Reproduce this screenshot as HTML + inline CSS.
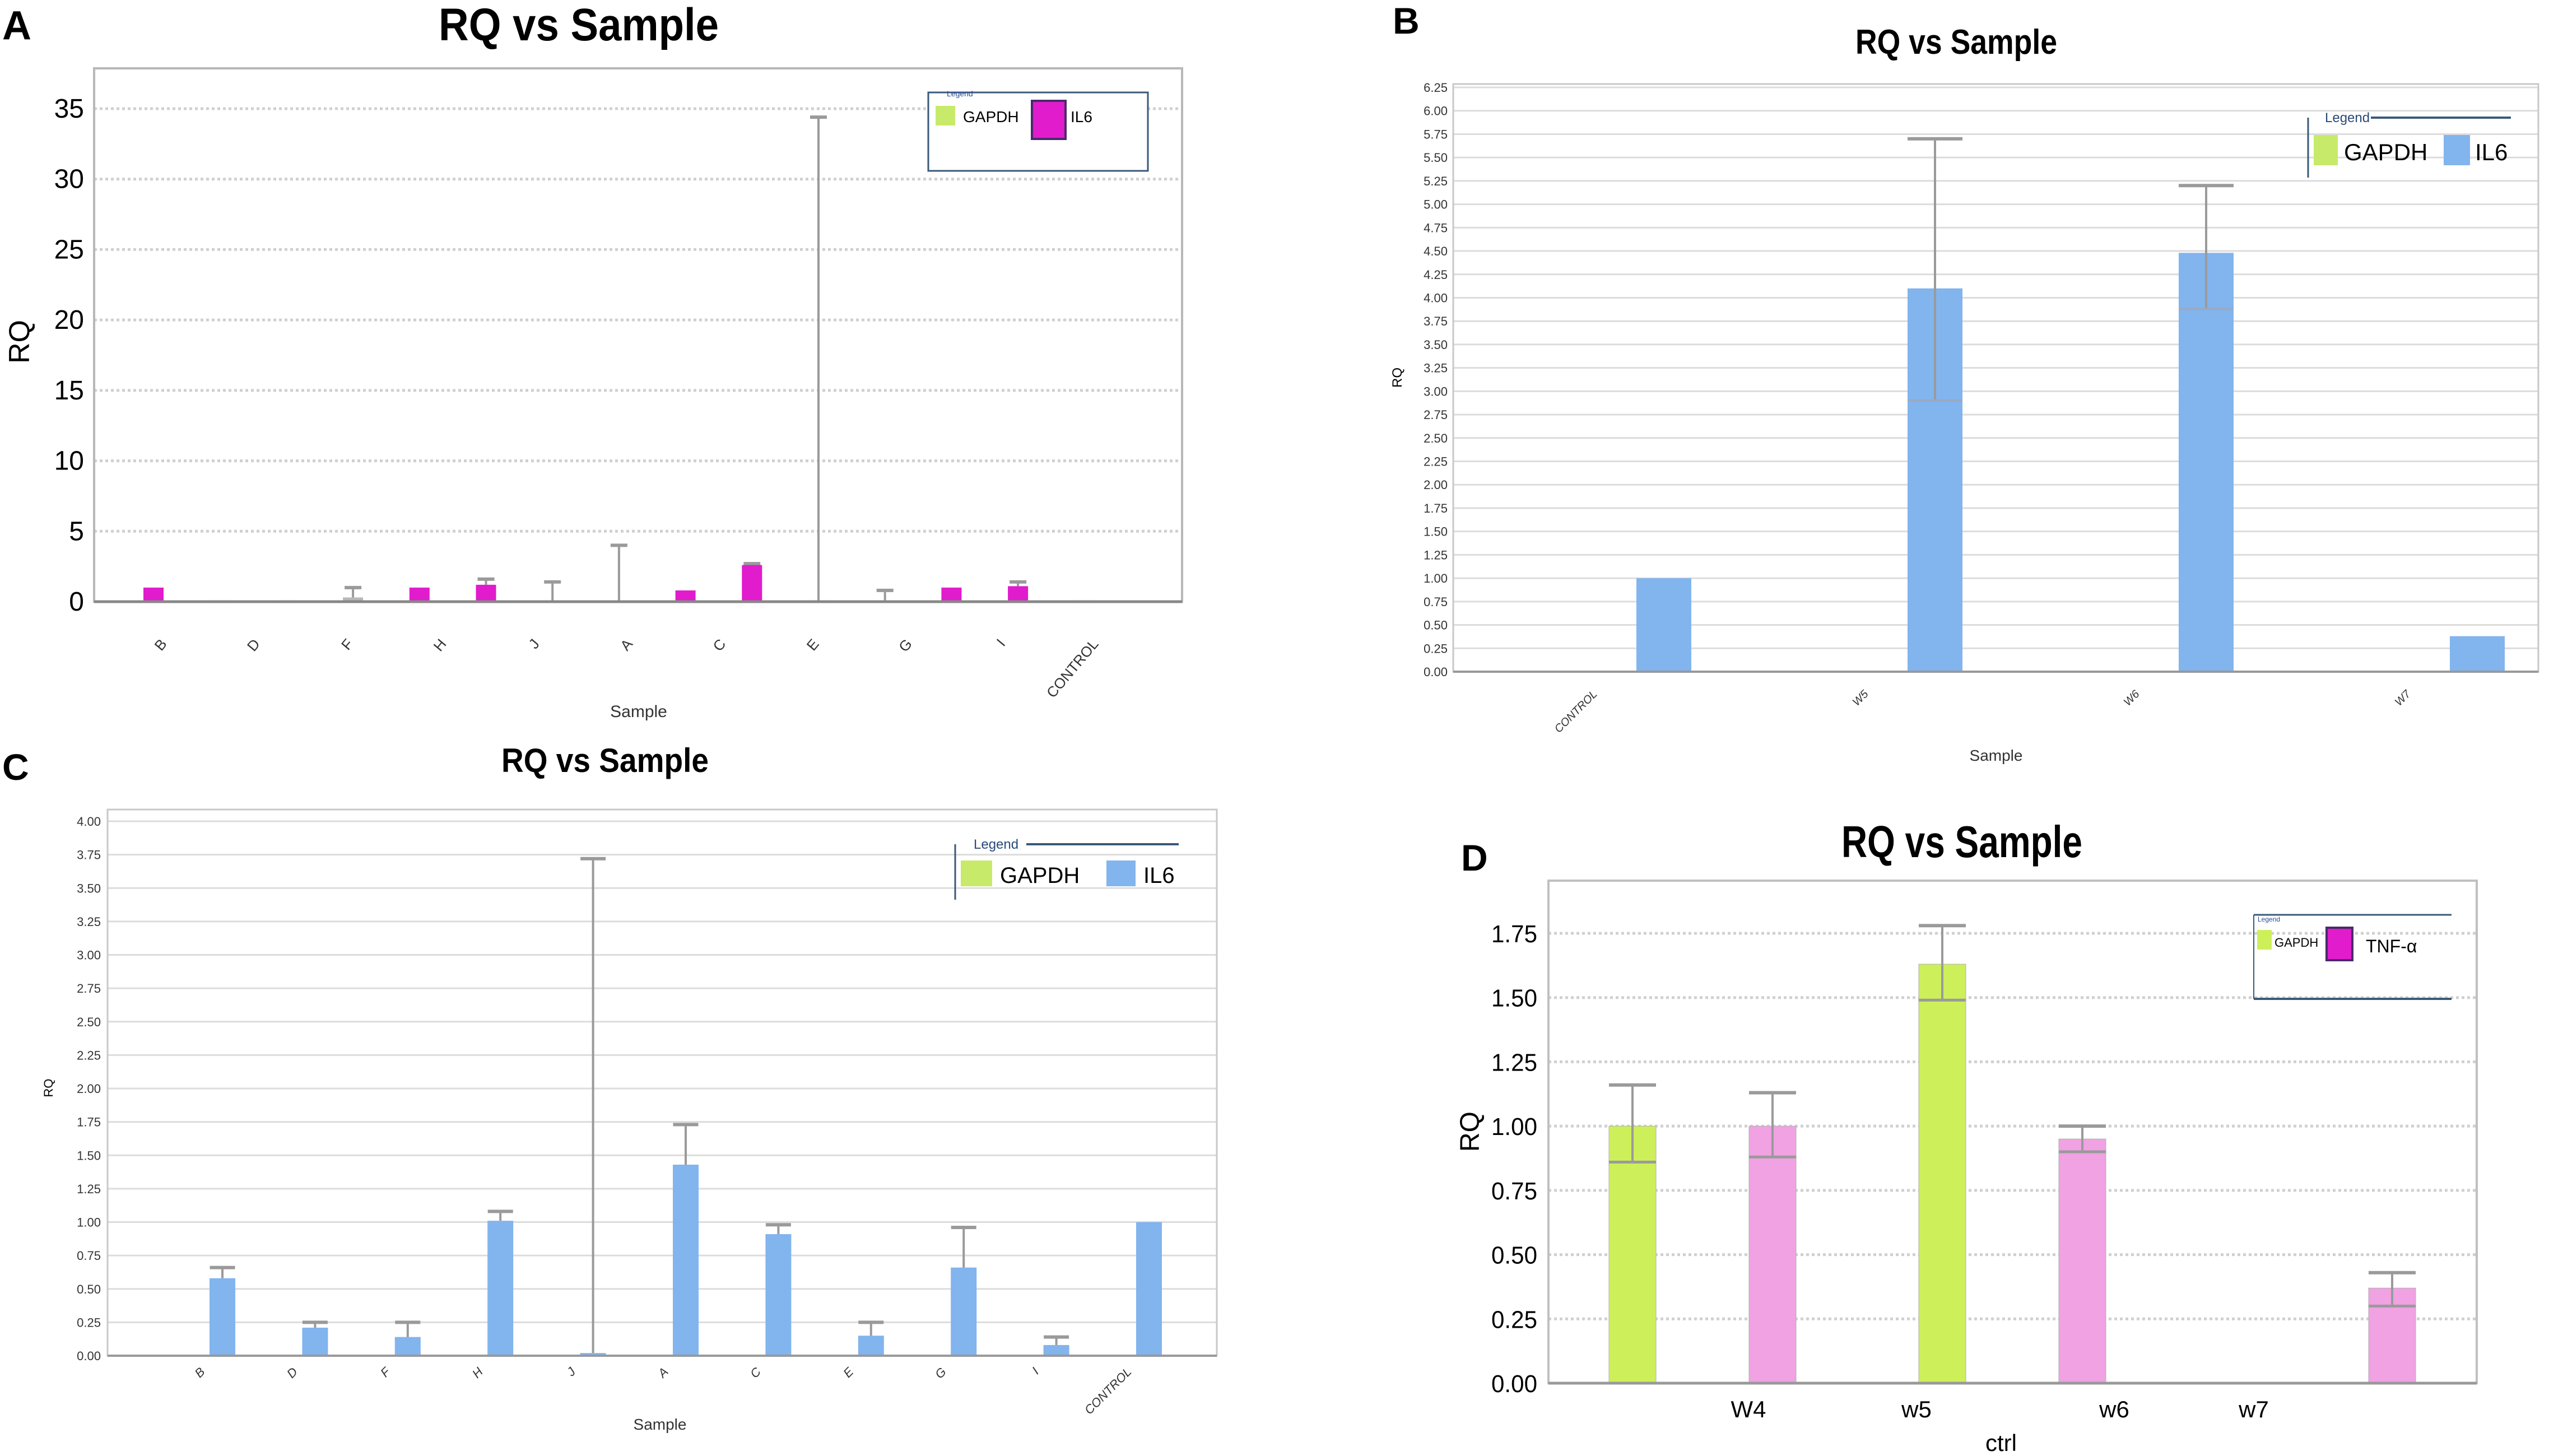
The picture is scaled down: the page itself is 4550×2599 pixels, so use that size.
<!DOCTYPE html>
<html><head><meta charset="utf-8">
<style>
html,body{margin:0;padding:0;background:#fff;}
svg{display:block;font-family:"Liberation Sans",sans-serif;}
</style></head>
<body>
<svg id="chart" width="4550" height="2599" viewBox="0 0 4550 2599" xmlns="http://www.w3.org/2000/svg">
<rect x="0" y="0" width="4550" height="2599" fill="#fff"/>
<!-- Panel letters & titles -->
<text x="4" y="70" font-size="72" font-weight="bold">A</text>
<text x="1033" y="72" font-size="82" font-weight="bold" text-anchor="middle" textLength="500" lengthAdjust="spacingAndGlyphs">RQ vs Sample</text>
<text x="2486" y="60" font-size="66" font-weight="bold">B</text>
<text x="3492" y="96" font-size="62" font-weight="bold" text-anchor="middle" textLength="360" lengthAdjust="spacingAndGlyphs">RQ vs Sample</text>
<text x="4" y="1392" font-size="66" font-weight="bold">C</text>
<text x="1080" y="1378" font-size="60" font-weight="bold" text-anchor="middle" textLength="370" lengthAdjust="spacingAndGlyphs">RQ vs Sample</text>
<text x="2608" y="1554" font-size="66" font-weight="bold">D</text>
<text x="3502" y="1530" font-size="80" font-weight="bold" text-anchor="middle" textLength="430" lengthAdjust="spacingAndGlyphs">RQ vs Sample</text>
<g id="layer"></g>
</svg>
<script>
// ---------- Panel A data ----------
const aSlotValues = [1.0, 0.1, 0.1, 0.3, 1.0, 1.2, 0.1, 0.0, 0.8, 2.6, 0.1, 0.0, 1.0, 1.1, 0.1];
const aSlotErr    = [1.05, 0.15, 0.15, 1.0, 1.05, 1.6, 1.4, 4.0, 0.85, 2.7, 34.4, 0.8, 1.0, 1.4, 0.15];
const aSlotPink   = [1, 0, 0, 0, 1, 1, 0, 0, 1, 1, 0, 0, 1, 1, 0];
const aCategories = ["B","D","F","H","J","A","C","E","G","I","CONTROL"];
const aTicks = [0,5,10,15,20,25,30,35];
// ---------- Panel B data ----------
const bCategories = ["CONTROL","W5","W6","W7"];
const bIL6 = [1.0, 4.1, 4.48, 0.38];
const bErrHi = [null, 5.7, 5.2, null];
const bErrLo = [null, 2.9, 3.88, null];
const bTicks = [0,0.25,0.5,0.75,1,1.25,1.5,1.75,2,2.25,2.5,2.75,3,3.25,3.5,3.75,4,4.25,4.5,4.75,5,5.25,5.5,5.75,6,6.25];
// ---------- Panel C data ----------
const cCategories = ["B","D","F","H","J","A","C","E","G","I","CONTROL"];
const cIL6 = [0.58, 0.21, 0.14, 1.01, 0.02, 1.43, 0.91, 0.15, 0.66, 0.08, 1.0];
const cErrHi = [0.66, 0.25, 0.25, 1.08, 3.72, 1.73, 0.98, 0.25, 0.96, 0.14, null];
const cTicks = [0,0.25,0.5,0.75,1,1.25,1.5,1.75,2,2.25,2.5,2.75,3,3.25,3.5,3.75,4];
// ---------- Panel D data ----------
const dGAPDH = [1.0, 1.63, 0];
const dGAPDHErrHi = [1.16, 1.78, null];
const dGAPDHErrLo = [0.86, 1.49, null];
const dTNF = [1.0, 0.95, 0.37];
const dTNFErrHi = [1.13, 1.0, 0.43];
const dTNFErrLo = [0.88, 0.9, 0.3];
const dLabels = ["W4","w5","w6","w7","ctrl"];
const dTicks = [0,0.25,0.5,0.75,1,1.25,1.5,1.75];

const NS = "http://www.w3.org/2000/svg";
const layer = document.getElementById('layer');
function mk(tag, attrs) {
  const e = document.createElementNS(NS, tag);
  for (const k in attrs) e.setAttribute(k, attrs[k]);
  layer.appendChild(e);
  return e;
}
function txt(s, attrs) { const e = mk('text', attrs); e.textContent = s; return e; }

// scales
const yA = v => 1074 - v * (880 / 35);
const xA = i => 274 + i * 118.7;
const yB = v => 1199 - v * (1043 / 6.25);
const xB = (g, s) => 2836 + g * 484 + (s ? 134 : -134);
const yC = v => 2420 - v * (954 / 4);
const xC = i => 397 + i * 165.4;
const yD = v => 2469 - v * (803 / 1.75);
const xD = (g, s) => 2914 + g * 553 + s * 250;

function errBar(x, yTop, yBot, capW, name) {
  let e = mk('line', {x1:x, x2:x, y1:yTop, y2:yBot, stroke:'#9a9a9a', 'stroke-width':4});
  
  
  e = mk('line', {x1:x-capW/2, x2:x+capW/2, y1:yTop, y2:yTop, stroke:'#9a9a9a', 'stroke-width':6});
  
  
}

// ================= PANEL A =================
aTicks.forEach(t => {
  let g = mk('line', {x1:168, x2:2110, y1:yA(t), y2:yA(t), stroke:'#d0d0d0', 'stroke-width':5, 'stroke-dasharray':'5 5'});
  
  
  let l = txt(String(t), {x:150, y:yA(t)+16, 'font-size':48, 'text-anchor':'end'});
  
  
});
let fa = mk('rect', {x:168, y:122, width:1942, height:952, fill:'none', stroke:'#b8b8b8', 'stroke-width':4});


aSlotValues.forEach((v, i) => {
  if (aSlotErr[i] != null && aSlotErr[i] > v + 0.05) errBar(xA(i), yA(aSlotErr[i]), yA(v), 30, 'a-error-bar');
  let b = mk('rect', {x:xA(i)-18, y:yA(v), width:36, height:yA(0)-yA(v), fill: aSlotPink[i] ? '#e01ccc' : '#b8b8b8'});
  
  
});
let axa = mk('line', {x1:168, x2:2110, y1:1074, y2:1074, stroke:'#888', 'stroke-width':5});


aCategories.forEach((c, i) => {
  const x = 299 + i * 166.3;
  let l = txt(c, {x:x, y:1150, 'font-size':26, 'text-anchor':'end', transform:`rotate(-50 ${x} 1150)`, fill:'#333'});
  
  
});
let axta = txt('Sample', {x:1140, y:1280, 'font-size':30, 'text-anchor':'middle', fill:'#333'});


let ayta = txt('RQ', {x:52, y:610, 'font-size':52, 'text-anchor':'middle', transform:'rotate(-90 52 610)'});


let lga = mk('rect', {x:1657, y:165, width:392, height:140, fill:'#fff', stroke:'#3a5a78', 'stroke-width':3});


let lgat = txt('Legend', {x:1690, y:172, 'font-size':14, fill:'#2a4a9a'});


let s1 = mk('rect', {x:1670, y:189, width:35, height:35, fill:'#c8ea6a'});


let t1 = txt('GAPDH', {x:1719, y:218, 'font-size':28});


let s2 = mk('rect', {x:1842, y:180, width:60, height:68, fill:'#e01ccc', stroke:'#4a2a6a', 'stroke-width':4});


let t2 = txt('IL6', {x:1911, y:218, 'font-size':28});



// ================= PANEL B =================
bTicks.forEach(t => {
  let g = mk('line', {x1:2594, x2:4531, y1:yB(t), y2:yB(t), stroke:'#dcdcdc', 'stroke-width':3});
  
  
  let l = txt(t.toFixed(2), {x:2584, y:yB(t)+8, 'font-size':22, 'text-anchor':'end', fill:'#333'});
  
  
});
let fb = mk('rect', {x:2594, y:150, width:1937, height:1049, fill:'none', stroke:'#c8c8c8', 'stroke-width':3});


bIL6.forEach((v, i) => {
  const x = xB(i, 1);
  let b = mk('rect', {x:x-49, y:yB(v), width:98, height:yB(0)-yB(v), fill:'#82b4ee'});
  
  
  if (bErrHi[i] != null) {
    errBar(x, yB(bErrHi[i]), yB(bErrLo[i]), 98, 'b-error-bar');
    let lo = mk('line', {x1:x-49, x2:x+49, y1:yB(bErrLo[i]), y2:yB(bErrLo[i]), stroke:'#9aaac0', 'stroke-width':4});
    
    
  }
});
let axb = mk('line', {x1:2594, x2:4531, y1:1199, y2:1199, stroke:'#999', 'stroke-width':4});


bCategories.forEach((c, i) => {
  const x = xB(i, 0) + 150;
  let l = txt(c, {x:x, y:1240, 'font-size':20, 'font-style':'italic', 'text-anchor':'end', transform:`rotate(-45 ${x} 1240)`, fill:'#333'});
  
  
});
let axtb = txt('Sample', {x:3563, y:1358, 'font-size':28, 'text-anchor':'middle', fill:'#333'});


let aytb = txt('RQ', {x:2502, y:674, 'font-size':24, 'text-anchor':'middle', transform:'rotate(-90 2502 674)'});


let lgbt = txt('Legend', {x:4150, y:218, 'font-size':24, fill:'#2a4a7a'});


let lgbl = mk('line', {x1:4232, x2:4482, y1:210, y2:210, stroke:'#3a5a78', 'stroke-width':4});


let lgbv = mk('line', {x1:4120, x2:4120, y1:210, y2:317, stroke:'#3a5a78', 'stroke-width':3});


let sb1 = mk('rect', {x:4130, y:241, width:43, height:54, fill:'#c8ea6a'});


let tb1 = txt('GAPDH', {x:4184, y:286, 'font-size':42});


let sb2 = mk('rect', {x:4362, y:241, width:47, height:54, fill:'#82b4ee'});


let tb2 = txt('IL6', {x:4418, y:286, 'font-size':42});



// ================= PANEL C =================
cTicks.forEach(t => {
  let g = mk('line', {x1:192, x2:2172, y1:yC(t), y2:yC(t), stroke:'#dcdcdc', 'stroke-width':3});
  
  
  let l = txt(t.toFixed(2), {x:180, y:yC(t)+8, 'font-size':22, 'text-anchor':'end', fill:'#333'});
  
  
});
let fc = mk('rect', {x:192, y:1445, width:1980, height:975, fill:'none', stroke:'#c8c8c8', 'stroke-width':3});


cIL6.forEach((v, i) => {
  const x = xC(i);
  if (cErrHi[i] != null) errBar(x, yC(cErrHi[i]), yC(v), 45, 'c-error-bar');
  let b = mk('rect', {x:x-23, y:yC(v), width:46, height:yC(0)-yC(v), fill:'#82b4ee'});
  
  
});
let axc = mk('line', {x1:192, x2:2172, y1:2420, y2:2420, stroke:'#999', 'stroke-width':4});


cCategories.forEach((c, i) => {
  const x = xC(i) - 30;
  let l = txt(c, {x:x, y:2450, 'font-size':22, 'font-style':'italic', 'text-anchor':'end', transform:`rotate(-45 ${x} 2450)`, fill:'#333'});
  
  
});
let axtc = txt('Sample', {x:1178, y:2552, 'font-size':28, 'text-anchor':'middle', fill:'#333'});


let aytc = txt('RQ', {x:94, y:1942, 'font-size':22, 'text-anchor':'middle', transform:'rotate(-90 94 1942)'});


let lgct = txt('Legend', {x:1738, y:1515, 'font-size':24, fill:'#2a4a7a'});


let lgcl = mk('line', {x1:1832, x2:2104, y1:1507, y2:1507, stroke:'#3a5a78', 'stroke-width':4});


let lgcv = mk('line', {x1:1705, x2:1705, y1:1507, y2:1606, stroke:'#3a5a78', 'stroke-width':3});


let sc1 = mk('rect', {x:1715, y:1536, width:56, height:46, fill:'#c8ea6a'});


let tc1 = txt('GAPDH', {x:1785, y:1576, 'font-size':40});


let sc2 = mk('rect', {x:1975, y:1536, width:52, height:46, fill:'#82b4ee'});


let tc2 = txt('IL6', {x:2041, y:1576, 'font-size':40});



// ================= PANEL D =================
dTicks.forEach(t => {
  if (t > 0) {
    let g = mk('line', {x1:2764, x2:4421, y1:yD(t), y2:yD(t), stroke:'#d0d0d0', 'stroke-width':5, 'stroke-dasharray':'5 5'});
    
    
  }
  let l = txt(t.toFixed(2), {x:2744, y:yD(t)+16, 'font-size':44, 'text-anchor':'end', textLength:82, lengthAdjust:'spacingAndGlyphs'});
  
  
});
let fd = mk('rect', {x:2764, y:1572, width:1657, height:897, fill:'none', stroke:'#c0c0c0', 'stroke-width':4});


function dBar(v, hi, lo, x, color, name) {
  if (v <= 0) return;
  let b = mk('rect', {x:x-42, y:yD(v), width:84, height:yD(0)-yD(v), fill:color, stroke:'#b0b0b0', 'stroke-width':1});
  
  
  if (hi != null) {
    errBar(x, yD(hi), yD(lo), 84, name + '-error-bar');
    let c = mk('line', {x1:x-42, x2:x+42, y1:yD(lo), y2:yD(lo), stroke:'#9a9a9a', 'stroke-width':5});
    
    
  }
}
dGAPDH.forEach((v, g) => dBar(v, dGAPDHErrHi[g], dGAPDHErrLo[g], xD(g, 0), '#cdef5a', 'd-bar-gapdh'));
dTNF.forEach((v, g) => dBar(v, dTNFErrHi[g], dTNFErrLo[g], xD(g, 1), '#f0a2e2', 'd-bar-tnf'));
let axd = mk('line', {x1:2764, x2:4421, y1:2469, y2:2469, stroke:'#999', 'stroke-width':5});


const dLabelX = [3121, 3421, 3774, 4023, 3572];
const dLabelY = [2530, 2530, 2530, 2530, 2590];
dLabels.forEach((c, i) => {
  let l = txt(c, {x:dLabelX[i], y:dLabelY[i], 'font-size':42, 'text-anchor':'middle'});
  
  
});
let aytd = txt('RQ', {x:2640, y:2020, 'font-size':48, 'text-anchor':'middle', transform:'rotate(-90 2640 2020)'});


let lgd1 = mk('line', {x1:4023, x2:4376, y1:1633, y2:1633, stroke:'#3a5a78', 'stroke-width':3});


let lgd2 = mk('line', {x1:4023, x2:4376, y1:1783, y2:1783, stroke:'#3a5a78', 'stroke-width':4});


let lgd3 = mk('line', {x1:4023, x2:4023, y1:1633, y2:1783, stroke:'#3a5a78', 'stroke-width':2});


let lgdt = txt('Legend', {x:4030, y:1645, 'font-size':12, fill:'#2a4a9a'});


let sd1 = mk('rect', {x:4029, y:1660, width:26, height:35, fill:'#cdef5a'});


let td1 = txt('GAPDH', {x:4060, y:1690, 'font-size':22});


let sd2 = mk('rect', {x:4153, y:1656, width:46, height:58, fill:'#e01ccc', stroke:'#4a2a6a', 'stroke-width':4});


let td2 = txt('TNF-α', {x:4223, y:1700, 'font-size':32});


</script>
</body></html>
